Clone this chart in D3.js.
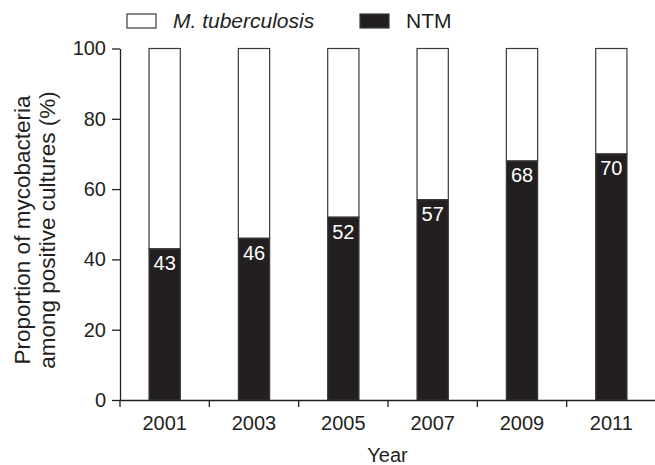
<!DOCTYPE html>
<html>
<head>
<meta charset="utf-8">
<script src="https://cdn.jsdelivr.net/npm/d3@7"></script>
<style>
  body { margin: 0; background: #fff; }
  svg text { font-family: "Liberation Sans", Arial, sans-serif; fill: #231f20; }
</style>
</head>
<body>
<div id="chart"></div>
<script>
// Proportion of NTM vs M. tuberculosis among positive cultures
const years = ["2001", "2003", "2005", "2007", "2009", "2011"];
const ntm = [43, 46, 52, 57, 68, 70];
const mtb = ntm.map(v => 100 - v);
const yTicks = [0, 20, 40, 60, 80, 100];

const width = 655, height = 465;
const margin = { top: 48.5, right: -1, bottom: 65, left: 120 };
const ink = "#231f20";
const fs = 20;

const svg = d3.select("#chart").append("svg")
  .attr("width", width).attr("height", height);

const x = d3.scaleBand().domain(years)
  .range([margin.left, width - margin.right]).paddingInner(0.65).paddingOuter(0.325);
const y = d3.scaleLinear().domain([0, 100]).range([height - margin.bottom, margin.top]);

const data = years.map((yr, i) => ({ year: yr, ntm: ntm[i], mtb: mtb[i] }));

// white (M. tuberculosis) part on top of black (NTM) part
svg.selectAll("rect.mtb").data(data).join("rect")
  .attr("class", "mtb")
  .attr("x", d => x(d.year))
  .attr("y", d => y(100))
  .attr("width", x.bandwidth())
  .attr("height", d => y(d.ntm) - y(100))
  .attr("fill", "#fff").attr("stroke", "#3a3a3a").attr("stroke-width", 1.2);

svg.selectAll("rect.ntm").data(data).join("rect")
  .attr("class", "ntm")
  .attr("x", d => x(d.year))
  .attr("y", d => y(d.ntm))
  .attr("width", x.bandwidth())
  .attr("height", d => y(0) - y(d.ntm))
  .attr("fill", ink).attr("stroke", "#3a3a3a").attr("stroke-width", 1.2);

svg.selectAll("text.val").data(data).join("text")
  .attr("class", "val")
  .attr("x", d => x(d.year) + x.bandwidth() / 2)
  .attr("y", d => y(d.ntm) + 21.5)
  .attr("text-anchor", "middle")
  .attr("font-size", fs)
  .style("fill", "#fff")
  .text(d => d.ntm);

// axes
const yAxis = svg.append("g")
  .attr("transform", `translate(${margin.left},0)`)
  .call(d3.axisLeft(y).tickValues(yTicks).tickSize(8).tickPadding(6).tickSizeOuter(0));
const step = x.step();
const xAxis = svg.append("g")
  .attr("transform", `translate(0,${y(0)})`)
  .call(d3.axisBottom(x).tickSize(0).tickPadding(16).tickSizeOuter(0));
// ticks between groups
xAxis.selectAll("line.sep").data(years).join("line")
  .attr("class", "sep")
  .attr("x1", d => x(d) - x.paddingOuter() * step)
  .attr("x2", d => x(d) - x.paddingOuter() * step)
  .attr("y1", 0).attr("y2", 7);

[yAxis, xAxis].forEach(g => {
  g.select(".domain").attr("stroke", ink).attr("stroke-width", 1.3);
  g.selectAll("line").attr("stroke", ink).attr("stroke-width", 1.3);
  g.selectAll("text").attr("font-size", fs).style("fill", ink);
});

// axis titles
svg.append("text")
  .attr("x", (margin.left + width) / 2).attr("y", 462)
  .attr("text-anchor", "middle").attr("font-size", fs)
  .text("Year");

const yTitle = svg.append("text")
  .attr("transform", `translate(0,230) rotate(-90)`)
  .attr("text-anchor", "middle").attr("font-size", 22.5);
yTitle.append("tspan").attr("x", 0).attr("y", 30).text("Proportion of mycobacteria");
yTitle.append("tspan").attr("x", 0).attr("y", 55).text("among positive cultures (%)");

// legend
const legendItems = [
  { label: "M. tuberculosis", fill: "#fff", italic: true, x: 127 },
  { label: "NTM", fill: ink, italic: false, x: 360 }
];
const lg = svg.selectAll("g.legend").data(legendItems).join("g")
  .attr("class", "legend")
  .attr("transform", d => `translate(${d.x},14)`);
lg.append("rect")
  .attr("width", 29).attr("height", 14)
  .attr("fill", d => d.fill).attr("stroke", "#3a3a3a").attr("stroke-width", 1.2);
lg.append("text")
  .attr("x", 46).attr("y", 14)
  .attr("font-size", 21)
  .attr("font-style", d => d.italic ? "italic" : "normal")
  .text(d => d.label);
</script>
</body>
</html>
